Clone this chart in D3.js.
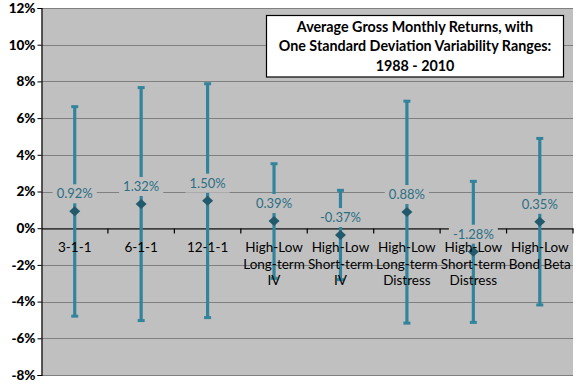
<!DOCTYPE html>
<html><head><meta charset="utf-8">
<script src="https://cdn.jsdelivr.net/npm/d3@7"></script>
<style>body{margin:0;background:#fff}svg{display:block}</style>
</head><body>
<svg id="c" width="576" height="384"></svg>
<script>
const categories = ["3-1-1","6-1-1","12-1-1","High-Low\nLong-term\nIV","High-Low\nShort-term\nIV","High-Low\nLong-term\nDistress","High-Low\nShort-term\nDistress","High-Low\nBond Beta"];
const means = [0.92, 1.32, 1.50, 0.39, -0.37, 0.88, -1.28, 0.35];
const upper = [6.65, 7.69, 7.90, 3.54, 2.09, 6.95, 2.58, 4.92];
const lower = [-4.82, -5.06, -4.90, -2.76, -2.83, -5.20, -5.16, -4.21];
const yTicks = [-8,-6,-4,-2,0,2,4,6,8,10,12];
const titleLines = ["Average Gross Monthly Returns, with","One Standard Deviation Variability Ranges:","1988 - 2010"];

const svg = d3.select("#c");
const L = 41.5, R = 573, T = 8, B = 375;
const x = d3.scaleBand().domain(categories).range([L, R]).padding(0);
const y = d3.scaleLinear().domain([-8, 12]).range([B, T]);
const font = "Lato, 'Open Sans', sans-serif";
const barColor = "#31849B", markColor = "#215A6C", labColor = "#2C6E84";

svg.append("rect").attr("x", L).attr("y", T).attr("width", R - L).attr("height", B - T).attr("fill", "#C0C0C0");

// gridlines
svg.append("g").selectAll("line").data(yTicks).join("line")
  .attr("x1", L).attr("x2", R).attr("y1", d => Math.round(y(d)) + 0.5).attr("y2", d => Math.round(y(d)) + 0.5)
  .attr("stroke", "#808080").attr("stroke-width", 1.2);

// y axis
const yAxis = d3.axisLeft(y).tickValues(yTicks).tickSize(4).tickFormat(d => d + "%");
const gy = svg.append("g").attr("transform", `translate(${L},0)`).call(yAxis);
gy.select(".domain").attr("stroke", "#000").attr("stroke-width", 1.2);
gy.selectAll(".tick line").attr("stroke", "#000");
gy.selectAll(".tick text").attr("font-family", font).attr("font-weight", "900").attr("font-size", 13.5).attr("fill", "#000").attr("x", -6);

// error bars
const data = categories.map((c, i) => ({c, m: means[i], u: upper[i], l: lower[i]}));
const cx = d => x(d.c) + x.bandwidth() / 2;
const g = svg.append("g");
g.selectAll("line.bar").data(data).join("line").attr("class", "bar")
  .attr("x1", cx).attr("x2", cx).attr("y1", d => y(d.u)).attr("y2", d => y(d.l))
  .attr("stroke", barColor).attr("stroke-width", 3.2);
g.selectAll("rect.capu").data(data).join("rect")
  .attr("x", d => cx(d) - 3.5).attr("y", d => y(d.u) - 1).attr("width", 7).attr("height", 3).attr("fill", barColor);
g.selectAll("rect.capl").data(data).join("rect")
  .attr("x", d => cx(d) - 3.5).attr("y", d => y(d.l) - 2).attr("width", 7).attr("height", 3).attr("fill", barColor);

// x axis at 0
const xAxis = d3.axisBottom(x).tickSizeInner(0).tickSizeOuter(0).tickFormat("");
const gx = svg.append("g").attr("transform", `translate(0,${Math.round(y(0)) + 0.5})`).call(xAxis);
gx.select(".domain").attr("stroke", "#000").attr("stroke-width", 1.2);
gx.selectAll(".tick").remove();
const bounds = categories.map(c => x(c) + x.bandwidth());
gx.append("g").selectAll("line").data(bounds).join("line")
  .attr("x1", d => d).attr("x2", d => d).attr("y1", 0).attr("y2", 5).attr("stroke", "#000").attr("stroke-width", 1.2);

// markers
g.raise();
svg.append("g").selectAll("path.mk").data(data).join("path")
  .attr("d", d => { const X = cx(d), Y = y(d.m); return `M${X - 5.5},${Y}L${X},${Y - 5}L${X + 5.5},${Y}L${X},${Y + 5}Z`; })
  .attr("fill", markColor);

// value labels
const lg = svg.append("g");
data.forEach(d => {
  const X = cx(d), Y = y(d.m) - 17.5;
  const txt = d.m.toFixed(2) + "%";
  const t = lg.append("text").attr("x", X).attr("y", Y + 4.5).attr("text-anchor", "middle")
    .attr("font-family", font).attr("font-size", 13).attr("fill", labColor).text(txt);
  const w = t.node().getComputedTextLength();
  lg.insert("rect", "text").attr("x", X - w / 2 - 4).attr("y", Y - 9.5).attr("width", w + 8).attr("height", 19).attr("fill", "#C0C0C0");
});

// category labels (on top)
const cl = svg.append("g").selectAll("text").data(categories).join("text")
  .attr("text-anchor", "middle").attr("font-family", font).attr("font-size", 13.5).attr("fill", "#000")
  .attr("x", d => x(d) + x.bandwidth() / 2).attr("y", y(0) + 23.5);
cl.each(function(d) {
  const t = d3.select(this);
  d.split("\n").forEach((ln, i) => t.append("tspan").attr("x", x(d) + x.bandwidth() / 2).attr("dy", i ? 16.8 : 0).text(ln));
});

// title box
const bx = 266.5, by = 15.5, bw = 297, bh = 61.5;
svg.append("rect").attr("x", bx).attr("y", by).attr("width", bw).attr("height", bh).attr("fill", "#fff").attr("stroke", "#000").attr("stroke-width", 1.2);
svg.append("g").selectAll("text").data(titleLines).join("text")
  .attr("x", bx + bw / 2).attr("y", (d, i) => 32 + i * 19.3).attr("text-anchor", "middle")
  .attr("font-family", font).attr("font-weight", "bold").attr("font-size", 14.3).attr("fill", "#000").text(d => d);
</script>
</body></html>
